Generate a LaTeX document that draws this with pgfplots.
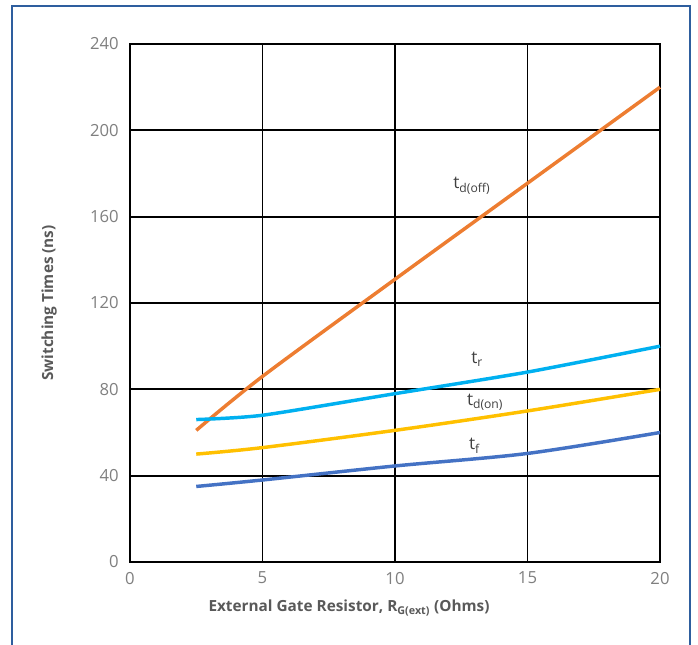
\documentclass[border=0pt]{standalone}
\usepackage{pgfplots}
\pgfplotsset{compat=1.18}
\usepackage{fontspec}
\setmainfont{Open Sans}
\definecolor{cOrange}{HTML}{ED7D31}
\definecolor{cSky}{HTML}{00B0F0}
\definecolor{cYellow}{HTML}{FFC000}
\definecolor{cBlue}{HTML}{4472C4}
\definecolor{frameC}{HTML}{2E5E9E}
\definecolor{tickC}{HTML}{7F7F7F}
\definecolor{labC}{HTML}{595959}
\definecolor{serC}{HTML}{404040}
\begin{document}
\begin{tikzpicture}[x=0.75pt,y=0.75pt]
\begin{axis}[
  at={(130*0.75pt,82*0.75pt)}, anchor=south west,
  scale only axis, width=530*0.75pt, height=518*0.75pt,
  xmin=0, xmax=20, ymin=0, ymax=240,
  xtick={0,5,10,15,20}, ytick={0,40,...,240},
  grid=major, major grid style={black, line width=1.3pt},
  axis line style={black, line width=1.3pt},
  tick style={draw=none},
  /pgf/number format/assume math mode=true,
  ticklabel style={font=\fontsize{12.5}{14}\selectfont, text=tickC},
  xticklabel style={yshift=-4pt},
  yticklabel style={xshift=-5pt},
  xlabel={External Gate Resistor, R\textsubscript{G(ext)} (Ohms)},
  ylabel={Switching Times (ns)},
  label style={font=\fontsize{11.5}{14}\selectfont\bfseries, text=labC},
  xlabel style={yshift=-5pt, xshift=-46*0.75pt},
  ylabel style={yshift=18pt},
  clip=false,
]
\addplot[cOrange, line width=2.6pt, smooth] coordinates {(2.5,61) (5,86) (10,131) (15,175.5) (20,220)};
\addplot[cSky, line width=2.6pt, smooth, tension=0.4] coordinates {(2.5,66) (5,68) (10,78) (15,88) (20,100)};
\addplot[cYellow, line width=2.6pt, smooth] coordinates {(2.5,50) (5,53) (10,61) (15,70) (20,80)};
\addplot[cBlue, line width=2.6pt, smooth] coordinates {(2.5,35) (5,38) (10,44.5) (15,50.3) (20,60)};
\node[text=serC, font=\fontsize{13}{15}\selectfont] at (axis cs:12.9,174.5) {t\textsubscript{d(off)}};
\node[text=serC, font=\fontsize{13}{15}\selectfont] at (axis cs:13.1,94) {t\textsubscript{r}};
\node[text=serC, font=\fontsize{13}{15}\selectfont] at (axis cs:13.4,74) {t\textsubscript{d(on)}};
\node[text=serC, font=\fontsize{13}{15}\selectfont] at (axis cs:13,54) {t\textsubscript{f}};
\end{axis}
\draw[frameC, line width=1.6pt] (12,-20) rectangle (690,638);
\pgfresetboundingbox
\useasboundingbox (0,0) rectangle (698,644);
\end{tikzpicture}
\end{document}
